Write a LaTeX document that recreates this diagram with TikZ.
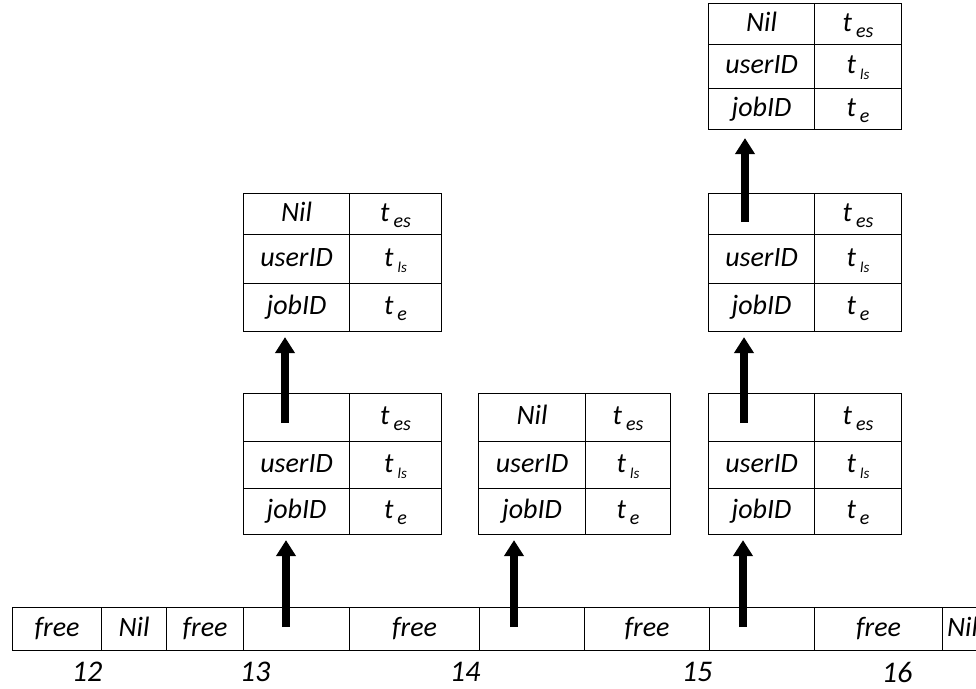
\documentclass[tikz,border=0pt]{standalone}
\usepackage{fontspec}
\setmainfont{Carlito}
\usetikzlibrary{arrows.meta}

% time field with a lowered index, e.g. t_es
\newcommand{\tsub}[2][20]{t\hspace{4pt}\raisebox{-6pt}{\fontsize{#1}{#1}\selectfont #2}}

\tikzset{
  cell/.style={draw, line width=1.1pt, rectangle, inner sep=0pt, anchor=north west,
    text height=20pt, text depth=6pt,
    font=\itshape\fontsize{28}{30}\selectfont},
  slotnum/.style={inner sep=0pt, font=\itshape\fontsize{30}{32}\selectfont},
  bigarrow/.style={line width=8pt, -{Triangle[width=19pt,length=16pt]}, shorten >=5pt}
}

% a 3x2 job record: name, left x, divider x, right x, four rule y's, first entry
\newcommand{\jobtable}[9]{%
  \pgfmathsetmacro\jtwl{#3-#2}\pgfmathsetmacro\jtwr{#4-#3}%
  \pgfmathsetmacro\jtha{#6-#5}\pgfmathsetmacro\jthb{#7-#6}\pgfmathsetmacro\jthc{#8-#7}%
  \node[cell,minimum width=\jtwl pt,minimum height=\jtha pt] (#1-p)   at (#2,#5) {#9};
  \node[cell,minimum width=\jtwr pt,minimum height=\jtha pt] (#1-tes) at (#3,#5) {\tsub{es}};
  \node[cell,minimum width=\jtwl pt,minimum height=\jthb pt] (#1-u)   at (#2,#6) {userID};
  \node[cell,minimum width=\jtwr pt,minimum height=\jthb pt] (#1-tls) at (#3,#6) {\tsub[15]{ls}};
  \node[cell,minimum width=\jtwl pt,minimum height=\jthc pt] (#1-j)   at (#2,#7) {jobID};
  \node[cell,minimum width=\jtwr pt,minimum height=\jthc pt] (#1-te)  at (#3,#7) {\tsub{e}};
}

\begin{document}
\begin{tikzpicture}[x=1pt,y=-1pt]
\useasboundingbox (0,0) rectangle (976,688);
\clip (0,0) rectangle (976,688);

% time slot row
\node[cell,minimum width=89pt, minimum height=43pt] (s1)  at (12,607)  {free};
\node[cell,minimum width=65pt, minimum height=43pt] (s2)  at (101,607) {Nil};
\node[cell,minimum width=77pt, minimum height=43pt] (s3)  at (166,607) {free};
\node[cell,minimum width=106pt,minimum height=43pt] (s4)  at (243,607) {};
\node[cell,minimum width=130pt,minimum height=43pt] (s5)  at (349,607) {free};
\node[cell,minimum width=105pt,minimum height=43pt] (s6)  at (479,607) {};
\node[cell,minimum width=125pt,minimum height=43pt] (s7)  at (584,607) {free};
\node[cell,minimum width=105pt,minimum height=43pt] (s8)  at (709,607) {};
\node[cell,minimum width=128pt,minimum height=43pt] (s9)  at (814,607) {free};
\node[cell,minimum width=40pt, minimum height=43pt] (s10) at (942,607) {Nil};

% slot numbers
\node[slotnum] (n12) at (87,672)  {12};
\node[slotnum] (n13) at (255,672) {13};
\node[slotnum] (n14) at (465,672) {14};
\node[slotnum] (n15) at (697,672) {15};
\node[slotnum] (n16) at (897,672) {16};

% job records
\jobtable{A1}{243}{349}{441}{393}{441}{488}{534}{}
\jobtable{A2}{243}{349}{441}{193}{234}{283}{331}{Nil}
\jobtable{B1}{478}{585}{670}{393}{441}{488}{534}{Nil}
\jobtable{C1}{708}{814}{901}{393}{441}{488}{534}{}
\jobtable{C2}{708}{814}{901}{193}{234}{283}{331}{}
\jobtable{C3}{708}{814}{901}{3}{44}{88}{129}{Nil}

% pointers
\coordinate (pa0) at (286,627);
\coordinate (pa1) at (285,423);
\coordinate (pb0) at (514,627);
\coordinate (pc0) at (743,627);
\coordinate (pc1) at (744,423);
\coordinate (pc2) at (745,222);

\draw[bigarrow] (pa0) -- (pa0 |- A1-j.south);
\draw[bigarrow] (pa1) -- (pa1 |- A2-j.south);
\draw[bigarrow] (pb0) -- (pb0 |- B1-j.south);
\draw[bigarrow] (pc0) -- (pc0 |- C1-j.south);
\draw[bigarrow] (pc1) -- (pc1 |- C2-j.south);
\draw[bigarrow, shorten >=8pt] (pc2) -- (pc2 |- C3-j.south);
\end{tikzpicture}
\end{document}
